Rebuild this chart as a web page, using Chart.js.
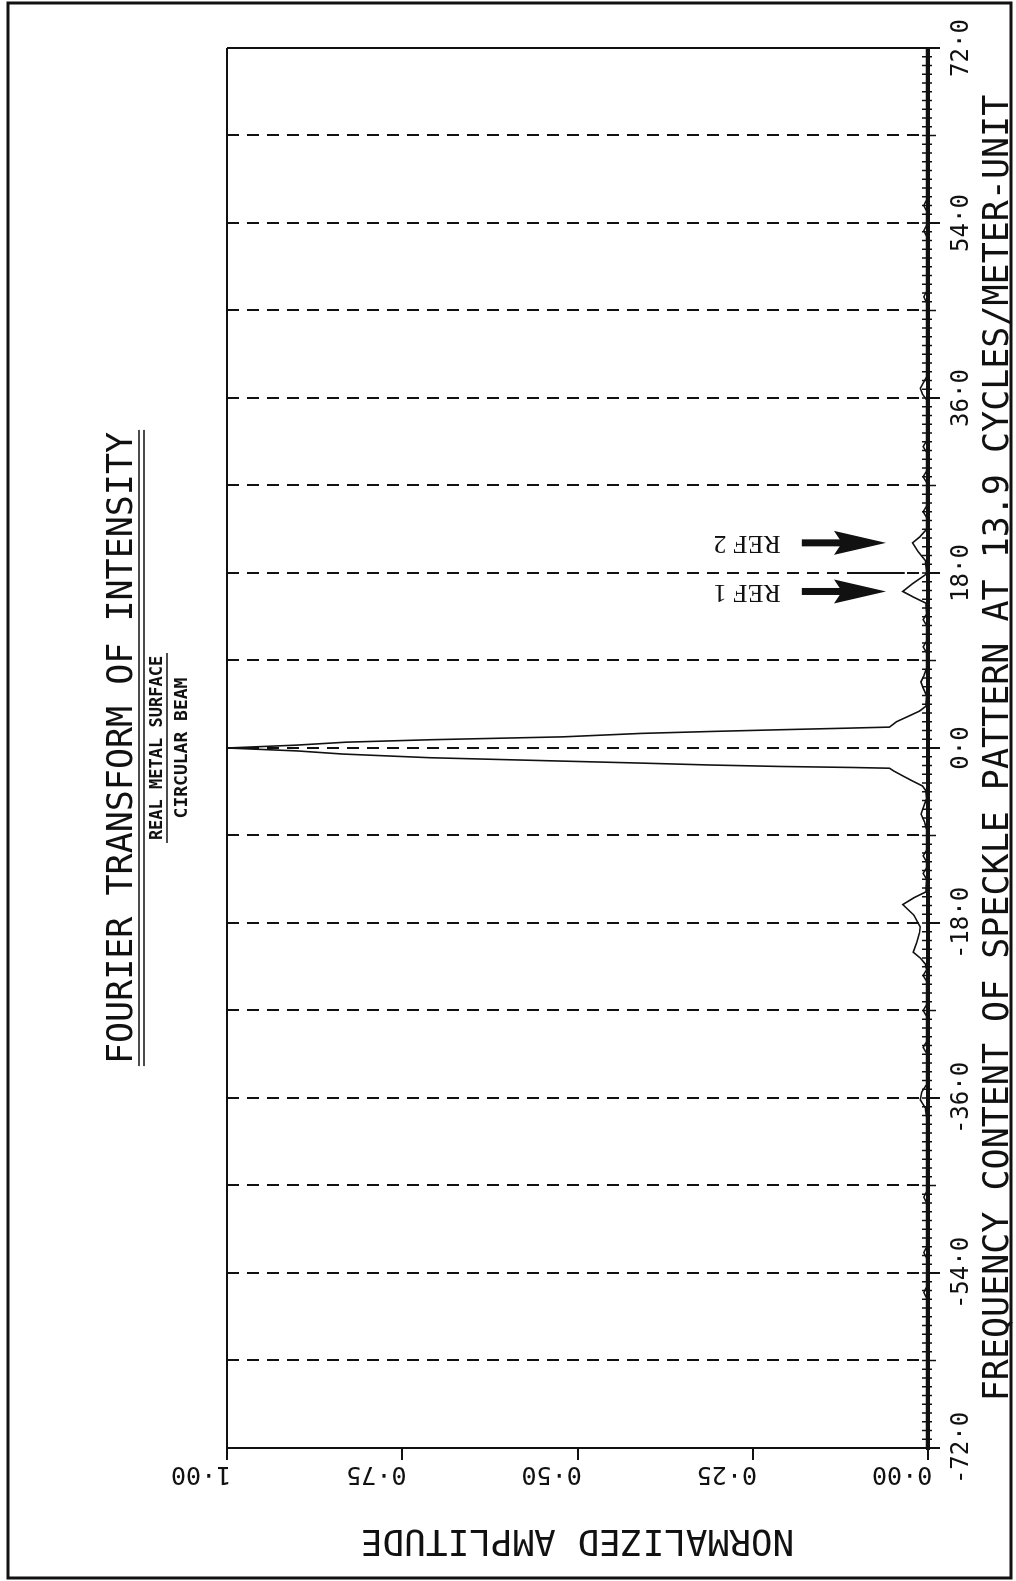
<!DOCTYPE html>
<html>
<head>
<meta charset="utf-8">
<title>Fourier transform of intensity</title>
<script src="https://cdn.jsdelivr.net/npm/chart.js@4.4.1/dist/chart.umd.min.js"></script>
<style>
    html, body { margin: 0; padding: 0; background: #fff; overflow: hidden; }
    /* the plot is drawn landscape and turned a quarter turn, like the original sheet */
    #sheet {
        position: absolute; left: 0; top: 0;
        width: 1581px; height: 1016px;
        transform-origin: 0 0;
        transform: translate(0, 1581px) rotate(-90deg);
    }
</style>
</head>
<body>
<div id="sheet"><canvas id="fftChart" width="1581" height="1016"></canvas></div>
<script>
/**
 * Fourier transform of intensity - speckle pattern frequency content
 */

const INK = "#111";
const MONO = '"DejaVu Sans Mono", monospace';

// --- DATA ---
const frequency = [
    -72, -56.6, -56.0, -55.4, -52.5, -51.9, -51.3, -46.8, -46.2, -45.6,
    -38.0, -37.0, -36.2, -35.4, -34.6, -31.4, -30.8, -30.2, -27.6, -27.0,
    -26.4, -24.0, -23.4, -22.8, -22.2, -21.6, -21.0, -20.0, -19.0, -18.4,
    -17.2, -16.1, -15.4, -14.8, -13.5, -12.9, -12.3, -11.7, -11.1, -10.5,
    -8.4, -7.6, -6.8, -6.0, -5.2, -4.4, -3.9, -3.4, -2.9, -2.4,
    -2.08, -2.0, -1.9, -1.75, -1.55, -1.35, -1.0, -0.62, -0.3, 0,
    0.3, 0.6, 0.85, 1.15, 1.5, 1.7, 1.88, 2.05, 2.15, 2.7,
    3.3, 3.8, 4.3, 5.4, 6.2, 6.8, 7.4, 8.2, 9.8, 10.4,
    11.0, 12.6, 13.2, 13.8, 14.9, 15.5, 16.1, 16.9, 17.8, 18.1,
    19.3, 20.2, 21.1, 21.7, 22.5, 23.7, 24.3, 24.9, 27.3, 27.9,
    28.5, 30.4, 31.0, 31.6, 35.8, 36.4, 37.0, 38.2, 45.8, 46.4,
    47.0, 52.6, 53.2, 53.8, 55.2, 55.8, 56.4, 72
];
const amplitude = [
    0.002, 0.002, 0.006, 0.002, 0.002, 0.006, 0.002, 0.002, 0.006, 0.002,
    0.002, 0.004, 0.011, 0.009, 0.002, 0.002, 0.007, 0.002, 0.002, 0.007,
    0.002, 0.002, 0.007, 0.002, 0.004, 0.011, 0.021, 0.016, 0.012, 0.011,
    0.020, 0.036, 0.020, 0.003, 0.002, 0.007, 0.002, 0.002, 0.007, 0.002,
    0.002, 0.005, 0.010, 0.006, 0.002, 0.003, 0.008, 0.022, 0.035, 0.048,
    0.055, 0.11, 0.21, 0.31, 0.41, 0.52, 0.71, 0.835, 0.90, 1.00,
    0.90, 0.83, 0.71, 0.52, 0.41, 0.31, 0.21, 0.11, 0.055, 0.045,
    0.027, 0.012, 0.003, 0.002, 0.007, 0.010, 0.006, 0.002, 0.002, 0.007,
    0.002, 0.002, 0.007, 0.002, 0.003, 0.020, 0.036, 0.022, 0.004, 0.002,
    0.004, 0.014, 0.022, 0.012, 0.002, 0.002, 0.007, 0.002, 0.002, 0.007,
    0.002, 0.002, 0.007, 0.002, 0.002, 0.008, 0.011, 0.002, 0.002, 0.006,
    0.002, 0.002, 0.006, 0.002, 0.002, 0.006, 0.002, 0.002
];

// Axis ticks and labels
const freqGridValues = [-72, -63, -54, -45, -36, -27, -18, -9, 0, 9, 18, 27, 36, 45, 54, 63, 72];
const freqLabelValues = [-72, -54, -36, -18, 0, 18, 36, 54, 72];
const freqLabelText = ["-72·0", "-54·0", "-36·0", "-18·0", "0·0", "18·0", "36·0", "54·0", "72·0"];
const ampTickValues = [0, 0.25, 0.5, 0.75, 1];
const ampTickLabels = ["0·00", "0·25", "0·50", "0·75", "1·00"];

// Reference peaks marked with arrows
const refNames = ["REF 1", "REF 2"];
const refFreq = [16.1, 21.1];

const TITLE = "FOURIER TRANSFORM OF INTENSITY";
const SUBTITLE_1 = "REAL METAL SURFACE";
const SUBTITLE_2 = "CIRCULAR BEAM";
const X_TITLE = "FREQUENCY CONTENT OF SPECKLE PATTERN AT 13.9 CYCLES/METER-UNIT";
const Y_TITLE = "NORMALIZED AMPLITUDE";

/**
 * PLOTTER DECORATION
 * Frame, titles with underlines, minor ticks and the REF arrows
 */
const plotterDecor = {
    id: "plotterDecor",
    beforeDraw(chart) {
        const { ctx, width, height } = chart;
        ctx.save();
        ctx.fillStyle = "#fff";
        ctx.fillRect(0, 0, width, height);
        ctx.restore();
    },
    afterDraw(chart) {
        const { ctx, chartArea: a, scales: { x, y } } = chart;
        const cx = (a.left + a.right) / 2;

        ctx.save();
        ctx.fillStyle = INK;
        ctx.strokeStyle = INK;

        // sheet frame
        ctx.lineWidth = 3;
        ctx.strokeRect(3, 8, chart.width - 6, chart.height - 13);

        // title block
        ctx.textAlign = "center";
        ctx.textBaseline = "alphabetic";
        ctx.font = "35px " + MONO;
        ctx.fillText(TITLE, cx, a.top - 95);
        const tw = ctx.measureText(TITLE).width / 2 + 2;
        ctx.lineWidth = 1.5;
        [a.top - 88, a.top - 83].forEach(ly => {
            ctx.beginPath();
            ctx.moveTo(cx - tw, ly);
            ctx.lineTo(cx + tw, ly);
            ctx.stroke();
        });

        ctx.font = "bold 17px " + MONO;
        ctx.fillText(SUBTITLE_1, cx, a.top - 65);
        ctx.beginPath();
        ctx.moveTo(cx - 95, a.top - 60);
        ctx.lineTo(cx + 95, a.top - 60);
        ctx.stroke();
        ctx.font = "bold 18px " + MONO;
        ctx.fillText(SUBTITLE_2, cx, a.top - 40);

        // minor ticks on the frequency axis (every 0.9)
        ctx.lineWidth = 1.5;
        for (let i = 0; i <= 160; i++) {
            const px = x.getPixelForValue(-72 + i * 0.9);
            const out = (i % 10 === 0 && i % 20 !== 0) ? 8 : 4;
            ctx.beginPath();
            ctx.moveTo(px, a.bottom - 6);
            ctx.lineTo(px, a.bottom + out);
            ctx.stroke();
        }

        // the pen ran solid for a stretch of the 18 grid line
        ctx.lineWidth = 2;
        ctx.beginPath();
        ctx.moveTo(x.getPixelForValue(18), y.getPixelForValue(0.10));
        ctx.lineTo(x.getPixelForValue(18), y.getPixelForValue(0.033));
        ctx.stroke();

        // REF arrows pointing at the reference peaks
        refFreq.forEach((f, i) => {
            const px = x.getPixelForValue(f);
            const tail = y.getPixelForValue(0.18);
            const tip = y.getPixelForValue(0.06);
            ctx.fillRect(px - 3.5, tail, 7, (tip - tail) - 40);
            ctx.beginPath();
            ctx.moveTo(px, tip);
            ctx.lineTo(px - 12, tip - 52);
            ctx.lineTo(px, tip - 44);
            ctx.lineTo(px + 12, tip - 52);
            ctx.closePath();
            ctx.fill();

            ctx.save();
            ctx.translate(px, y.getPixelForValue(0.21));
            ctx.rotate(-Math.PI / 2);
            ctx.font = "26px 'Liberation Serif', serif";
            ctx.textAlign = "left";
            ctx.textBaseline = "middle";
            ctx.fillText(refNames[i], 0, 0);
            ctx.restore();
        });

        ctx.restore();
    }
};

function freqLabel(value) {
    const k = freqLabelValues.indexOf(value);
    return k >= 0 ? freqLabelText[k] : "";
}

const ctx = document.getElementById("fftChart").getContext("2d");

new Chart(ctx, {
    type: "scatter",
    data: {
        datasets: [{
            data: frequency.map((f, i) => ({ x: f, y: amplitude[i] })),
            showLine: true,
            borderColor: INK,
            borderWidth: 1.6,
            pointRadius: 0,
            tension: 0
        }]
    },
    options: {
        responsive: false,
        animation: false,
        devicePixelRatio: 1,
        layout: { padding: { top: 227, right: 48, bottom: 0, left: 0 } },
        plugins: {
            legend: { display: false },
            tooltip: { enabled: false }
        },
        scales: {
            x: {
                type: "linear",
                min: -72,
                max: 72,
                position: "bottom",
                afterBuildTicks: s => { s.ticks = freqGridValues.map(v => ({ value: v })); },
                afterFit: s => { s.height = 88; },
                ticks: {
                    autoSkip: false,
                    minRotation: 0,
                    maxRotation: 0,
                    padding: 10,
                    color: INK,
                    font: { family: MONO, size: 24, lineHeight: 1 },
                    labelOffset: c => (c.tick && c.tick.value === -72 ? 18 : 0),
                    callback: v => freqLabel(v)
                },
                grid: {
                    color: INK,
                    lineWidth: 2,
                    drawTicks: true,
                    tickLength: 12,
                    tickWidth: 2,
                    tickColor: c => (c.tick && freqLabelValues.includes(c.tick.value) ? INK : "rgba(0,0,0,0)")
                },
                border: {
                    display: true,
                    color: INK,
                    width: 4,
                    dash: c => (c.tick && Math.abs(c.tick.value) !== 72 ? [12, 8] : [])
                },
                title: {
                    display: true,
                    text: X_TITLE,
                    color: INK,
                    font: { family: MONO, size: 35, lineHeight: 1 },
                    padding: { top: 0, bottom: 0 }
                }
            },
            y: {
                type: "linear",
                min: 0,
                max: 1,
                position: "left",
                afterBuildTicks: s => { s.ticks = ampTickValues.map(v => ({ value: v })); },
                afterFit: s => { s.width = 133; },
                ticks: {
                    autoSkip: false,
                    minRotation: 90,
                    maxRotation: 90,
                    crossAlign: "near",
                    padding: 14,
                    labelOffset: -56,
                    color: INK,
                    font: { family: MONO, size: 25, lineHeight: 1 },
                    callback: (v, i) => ampTickLabels[i]
                },
                grid: {
                    color: c => (c.tick && c.tick.value === 1 ? INK : "rgba(0,0,0,0)"),
                    lineWidth: 2,
                    drawTicks: true,
                    tickLength: 12,
                    tickWidth: 2,
                    tickColor: INK
                },
                border: { display: true, color: INK, width: 2 },
                title: {
                    display: true,
                    text: Y_TITLE,
                    color: INK,
                    font: { family: MONO, size: 36, lineHeight: 1 },
                    padding: { top: 24, bottom: 0 }
                }
            }
        }
    },
    plugins: [plotterDecor]
});
</script>
</body>
</html>
